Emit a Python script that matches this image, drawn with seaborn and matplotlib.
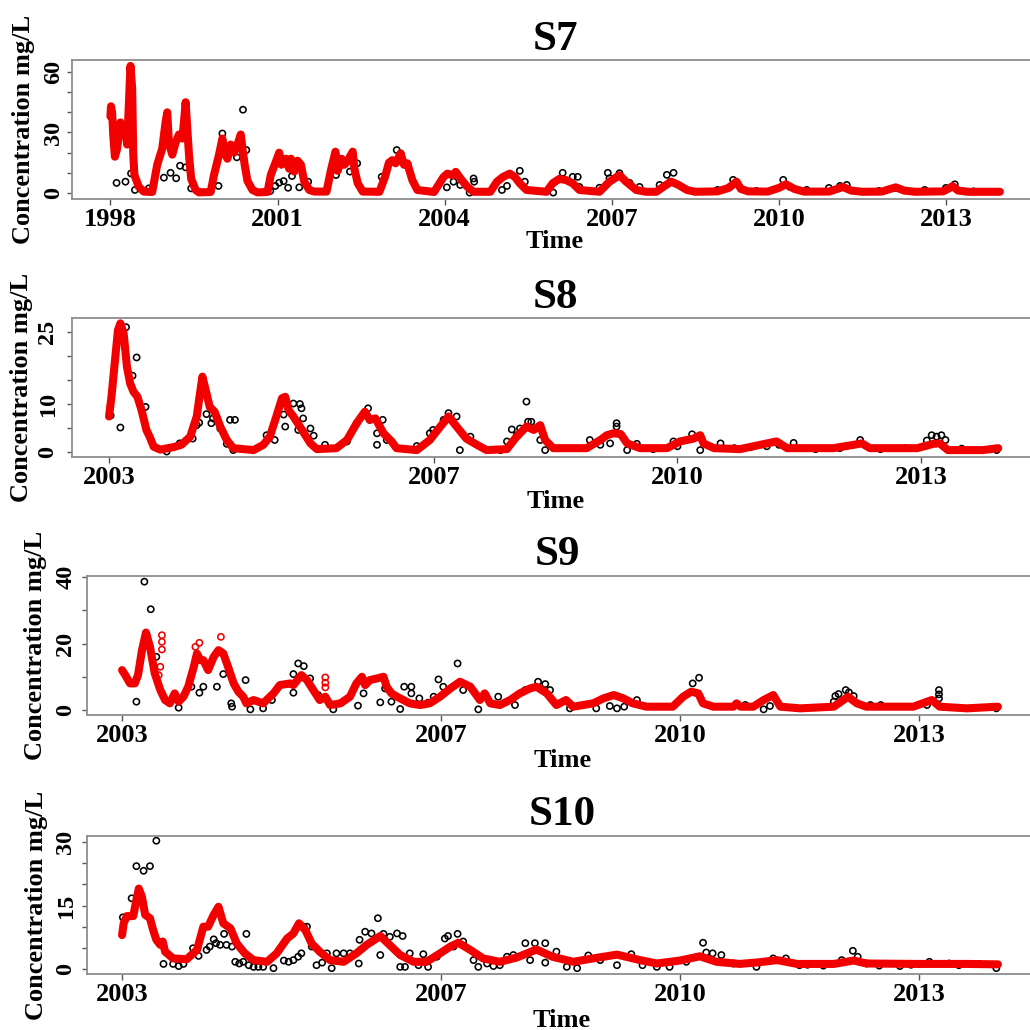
import numpy as np
import pandas as pd
import matplotlib
matplotlib.use("Agg")
import matplotlib.pyplot as plt
import seaborn as sns

# ---------------------------------------------------------------- data
# S7 simulated concentration (decimal year, mg/L)
s7_sim_t = [1998.00, 1998.01, 1998.03, 1998.05, 1998.08, 1998.12, 1998.18, 1998.23, 1998.27, 1998.30,
            1998.33, 1998.36, 1998.39, 1998.41, 1998.43, 1998.51, 1998.60, 1998.75, 1998.84, 1998.93,
            1998.99, 1999.02, 1999.05, 1999.11, 1999.17, 1999.23, 1999.29, 1999.32, 1999.35, 1999.38,
            1999.41, 1999.45, 1999.53, 1999.59, 1999.80, 1999.86, 1999.95, 2000.01, 2000.05, 2000.10,
            2000.16, 2000.22, 2000.28, 2000.34, 2000.37, 2000.41, 2000.46, 2000.55, 2000.64, 2000.82,
            2000.88, 2000.97, 2001.03, 2001.07, 2001.15, 2001.21, 2001.24, 2001.30, 2001.36, 2001.42,
            2001.48, 2001.57, 2001.66, 2001.88, 2001.96, 2002.04, 2002.08, 2002.15, 2002.20, 2002.26,
            2002.35, 2002.38, 2002.44, 2002.53, 2002.83, 2002.93, 2003.00, 2003.06, 2003.12, 2003.21,
            2003.27, 2003.33, 2003.42, 2003.51, 2003.81, 2003.98, 2004.05, 2004.14, 2004.20, 2004.29,
            2004.41, 2004.52, 2004.82, 2004.94, 2005.05, 2005.17, 2005.26, 2005.35, 2005.47, 2005.83,
            2005.94, 2006.06, 2006.18, 2006.30, 2006.42, 2006.78, 2006.96, 2007.14, 2007.26, 2007.44,
            2007.62, 2007.80, 2007.95, 2008.07, 2008.20, 2008.35, 2008.50, 2008.90, 2009.10, 2009.24,
            2009.32, 2009.45, 2009.80, 2010.00, 2010.13, 2010.28, 2010.45, 2010.90, 2011.05, 2011.15,
            2011.30, 2011.50, 2011.85, 2012.00, 2012.10, 2012.25, 2012.45, 2012.95, 2013.05, 2013.12,
            2013.22, 2013.40, 2013.97]
s7_sim_v = [38, 43, 40, 29, 18, 22, 35, 29, 32, 24,
            44, 63, 52, 19, 9, 3, 0.7, 0.5, 14, 22,
            35, 40, 25, 19, 25, 29, 27, 35, 45, 32,
            19, 7, 1.5, 0.3, 0.5, 9, 19, 27, 20, 17,
            24, 20, 24, 29, 22, 14, 6, 1.5, 0.3, 0.5,
            9, 15.5, 20, 14, 17, 12, 17, 10.6, 16, 14,
            5.6, 1.5, 0.7, 0.7, 11.4, 20.5, 11, 17, 14, 16,
            20.5, 12, 4.8, 0.7, 0.6, 8, 15, 16.3, 14.7, 19.6,
            14, 14.7, 6.4, 1.5, 0.5, 7.9, 9.6, 8.8, 10.5, 7,
            3, 0.6, 0.6, 5.6, 8, 9.6, 8, 4.8, 1.5, 0.6,
            4.8, 7, 6.4, 4.8, 1.5, 0.6, 5.6, 8.8, 5.6, 1.5,
            0.6, 0.6, 3.5, 5.6, 4, 1.5, 0.6, 0.8, 2.5, 5.6,
            2, 0.8, 0.7, 2.5, 4.3, 2, 0.7, 0.7, 2, 3,
            1.2, 0.6, 0.7, 2, 2.8, 1.2, 0.6, 0.8, 2.2, 3.4,
            1.2, 0.6, 0.6]

# S7 observed concentration
s7_obs_t = [1998.11, 1998.27, 1998.37, 1998.44, 1998.69, 1998.96, 1999.08, 1999.18, 1999.25, 1999.35,
            1999.45, 1999.94, 2000.01, 2000.13, 2000.27, 2000.38, 2000.44, 2000.87, 2000.96, 2001.03,
            2001.11, 2001.19, 2001.26, 2001.39, 2001.55, 2002.05, 2002.30, 2002.43, 2002.87, 2003.14,
            2003.21, 2003.34, 2004.04, 2004.16, 2004.28, 2004.45, 2004.52, 2004.53, 2005.03, 2005.12,
            2005.35, 2005.44, 2005.95, 2006.12, 2006.30, 2006.39, 2006.42, 2006.78, 2006.93, 2006.96,
            2007.14, 2007.32, 2007.50, 2007.86, 2007.99, 2008.05, 2008.11, 2008.90, 2009.12, 2009.18,
            2009.60, 2010.08, 2010.20, 2010.50, 2010.90, 2011.10, 2011.22, 2011.80, 2012.10, 2012.62,
            2013.00, 2013.16, 2013.50]
s7_obs_v = [5, 5.6, 9.7, 1.5, 2.3, 7.6, 10, 7.3, 13.5, 12.7,
            2.3, 3.5, 29.5, 22, 17.7, 41.3, 21.3, 1, 3.5, 5.1,
            5.9, 2.6, 8.4, 2.8, 5.6, 8.9, 10.6, 14.7, 8, 21.3,
            19.6, 14, 2.8, 5.6, 4, 0.2, 7.2, 5.6, 1.5, 3.5,
            11, 5.6, 0.2, 10, 8, 8, 3, 2.6, 10, 7.3,
            9.8, 5, 3, 4, 9, 5.5, 10, 1.5, 3, 6.5,
            1.0, 6.5, 3.0, 1.5, 2.5, 3.5, 4, 1.0, 2.5, 1.5,
            2.5, 4.3, 0.8]

# S8 simulated concentration
s8_sim_t = [2003.00, 2003.03, 2003.07, 2003.11, 2003.14, 2003.18, 2003.22, 2003.26, 2003.30, 2003.35,
            2003.40, 2003.46, 2003.50, 2003.55, 2003.63, 2003.79, 2003.89, 2004.00, 2004.08, 2004.12,
            2004.15, 2004.19, 2004.24, 2004.30, 2004.37, 2004.45, 2004.53, 2004.78, 2004.90, 2004.98,
            2005.06, 2005.13, 2005.17, 2005.21, 2005.27, 2005.35, 2005.48, 2005.56, 2005.80, 2005.93,
            2006.05, 2006.15, 2006.21, 2006.28, 2006.38, 2006.48, 2006.54, 2006.79, 2006.95, 2007.08,
            2007.18, 2007.28, 2007.40, 2007.53, 2007.65, 2007.90, 2008.00, 2008.14, 2008.23, 2008.31,
            2008.37, 2008.47, 2008.88, 2009.05, 2009.13, 2009.21, 2009.30, 2009.38, 2009.54, 2009.87,
            2010.03, 2010.20, 2010.28, 2010.32, 2010.45, 2010.77, 2011.02, 2011.22, 2011.35, 2011.92,
            2012.17, 2012.27, 2012.37, 2012.95, 2013.15, 2013.23, 2013.33, 2013.76, 2013.95]
s8_sim_v = [7.4, 11.5, 18.5, 25.4, 26.8, 24.7, 17.8, 14.3, 12.6, 11.5,
            8.75, 4.6, 3.2, 1.1, 0.5, 1.0, 1.5, 3.2, 7.4, 12.2,
            15.7, 12.9, 9.4, 8.4, 5.3, 2.5, 0.8, 0.4, 1.5, 3.2,
            7.4, 11.2, 11.5, 8.75, 7.4, 5.3, 1.8, 0.6, 0.8, 2.5,
            6, 8.4, 6.7, 7, 3.9, 2.2, 0.8, 0.4, 2.5, 5.3,
            7.4, 5.3, 2.8, 1.5, 0.4, 0.6, 2.8, 5.3, 4.6, 5.6,
            2.5, 0.8, 0.8, 2.5, 3.5, 3.9, 3.75, 1.8, 0.8, 0.8,
            2.2, 2.8, 3.5, 1.8, 0.8, 0.6, 1.5, 2.2, 0.8, 0.8,
            1.5, 1.8, 0.8, 0.8, 1.7, 1.8, 0.4, 0.4, 0.8]

# S8 observed concentration
s8_obs_t = [2003.02, 2003.14, 2003.21, 2003.29, 2003.34, 2003.45, 2003.71, 2003.87, 2004.03, 2004.08,
            2004.11, 2004.20, 2004.26, 2004.28, 2004.37, 2004.45, 2004.49, 2004.53, 2004.55, 2004.94,
            2005.04, 2005.15, 2005.17, 2005.27, 2005.33, 2005.35, 2005.37, 2005.39, 2005.48, 2005.52,
            2005.66, 2005.93, 2006.05, 2006.19, 2006.21, 2006.30, 2006.30, 2006.37, 2006.42, 2006.79,
            2006.95, 2006.99, 2007.12, 2007.18, 2007.28, 2007.32, 2007.45, 2007.82, 2007.90, 2007.96,
            2008.02, 2008.06, 2008.14, 2008.16, 2008.20, 2008.31, 2008.37, 2008.92, 2009.05, 2009.17,
            2009.25, 2009.25, 2009.38, 2009.50, 2009.70, 2009.95, 2010.00, 2010.18, 2010.28, 2010.53,
            2010.70, 2010.90, 2011.10, 2011.25, 2011.43, 2011.70, 2012.00, 2012.25, 2012.50, 2012.80,
            2013.07, 2013.13, 2013.19, 2013.25, 2013.30, 2013.50, 2013.93]
s8_obs_v = [7.6, 5.1, 26, 15.9, 19.7, 9.4, 0.1, 1.8, 2.8, 5.6,
            6.1, 7.9, 6.0, 7.0, 4.9, 1.7, 6.7, 0.4, 6.7, 3.5,
            2.5, 7.8, 5.3, 10.1, 4.6, 10.0, 9.1, 7.0, 4.9, 3.4,
            1.5, 2.2, 6.0, 9.1, 6.7, 3.9, 1.5, 6.7, 2.5, 1.25,
            3.9, 4.6, 6.7, 8.1, 7.4, 0.4, 3.2, 0.4, 2.2, 4.7,
            3.5, 4.9, 10.5, 6.3, 6.3, 2.5, 0.4, 2.5, 1.5, 1.8,
            6.0, 5.3, 0.4, 1.7, 0.6, 2.2, 1.2, 3.7, 0.4, 1.8,
            0.8, 1.0, 1.2, 1.5, 1.9, 0.6, 0.8, 2.5, 0.6, 0.8,
            2.4, 3.5, 3.2, 3.5, 2.5, 0.7, 0.4]

# S9 simulated concentration
s9_sim_t = [2003.00, 2003.04, 2003.10, 2003.16, 2003.20, 2003.25, 2003.30, 2003.35, 2003.41, 2003.48,
            2003.54, 2003.60, 2003.66, 2003.71, 2003.77, 2003.83, 2003.90, 2003.94, 2003.98, 2004.02,
            2004.08, 2004.15, 2004.21, 2004.27, 2004.33, 2004.40, 2004.46, 2004.52, 2004.56, 2004.65,
            2004.77, 2004.90, 2004.98, 2005.11, 2005.15, 2005.25, 2005.32, 2005.40, 2005.48, 2005.55,
            2005.61, 2005.74, 2005.86, 2005.94, 2006.01, 2006.05, 2006.11, 2006.20, 2006.28, 2006.32,
            2006.38, 2006.45, 2006.53, 2006.61, 2006.74, 2006.86, 2006.99, 2007.12, 2007.24, 2007.37,
            2007.49, 2007.55, 2007.62, 2007.74, 2007.87, 2007.99, 2008.12, 2008.20, 2008.33, 2008.45,
            2008.57, 2008.66, 2008.91, 2009.04, 2009.17, 2009.29, 2009.41, 2009.58, 2009.91, 2010.04,
            2010.14, 2010.23, 2010.29, 2010.42, 2010.67, 2010.71, 2010.76, 2010.92, 2011.05, 2011.17,
            2011.26, 2011.51, 2011.93, 2012.05, 2012.11, 2012.22, 2012.34, 2012.93, 2013.10, 2013.16,
            2013.26, 2013.60, 2013.99]
s9_sim_v = [12, 10.5, 8, 8, 10.5, 18, 23.3, 19, 11, 6,
            3, 2, 5, 2.5, 4, 7, 13, 17, 15, 15,
            12, 16, 18, 17, 13, 8, 5.5, 4, 2, 3,
            2, 5, 7.5, 8, 7.5, 10.5, 9, 6, 3, 4,
            1.5, 2, 4, 8, 10, 7.5, 9, 9.5, 10, 7,
            5, 4, 3, 2, 1.5, 2, 4, 6.5, 8.5, 7,
            3, 5, 2, 1.5, 3, 5, 6.5, 7, 5, 1.5,
            3, 1, 2, 3.5, 4.5, 3.5, 2, 1, 1, 4,
            5.5, 5, 2, 1, 1, 2, 1, 1, 3, 4.5,
            1, 0.5, 1, 3, 4, 2, 1, 1, 2.5, 3,
            1, 0.5, 1]

# S9 isolated simulated values standing off the main curve
s9_sim_pts_t = [2003.46, 2003.48, 2003.50, 2003.50, 2003.50, 2003.92, 2003.97, 2004.24, 2005.55, 2005.55, 2005.55]
s9_sim_pts_v = [10.5, 13, 18.2, 20.5, 22.5, 19, 20.2, 22, 6.8, 8.2, 9.8]

# S9 observed concentration
s9_obs_t = [2003.18, 2003.28, 2003.36, 2003.43, 2003.71, 2003.87, 2003.97, 2004.02, 2004.19, 2004.27,
            2004.37, 2004.38, 2004.55, 2004.61, 2004.77, 2004.88, 2005.15, 2005.15, 2005.21, 2005.28,
            2005.36, 2005.46, 2005.65, 2005.96, 2006.03, 2006.24, 2006.30, 2006.38, 2006.49, 2006.54,
            2006.63, 2006.63, 2006.73, 2006.84, 2006.91, 2006.97, 2007.03, 2007.21, 2007.28, 2007.47,
            2007.72, 2007.93, 2008.06, 2008.22, 2008.31, 2008.37, 2008.62, 2008.95, 2009.12, 2009.21,
            2009.30, 2009.46, 2010.16, 2010.24, 2010.82, 2011.05, 2011.13, 2011.93, 2011.95, 2011.99,
            2012.08, 2012.12, 2012.18, 2012.39, 2012.52, 2013.10, 2013.25, 2013.25, 2013.25, 2013.97]
s9_obs_v = [2.5, 38.6, 30.3, 16, 0.7, 7, 5.2, 7, 7, 10.8,
            2, 1, 9, 0.2, 0.5, 3, 5.2, 10.8, 14, 13.2,
            9.5, 4.5, 0.2, 1.3, 5, 2.3, 6.5, 2.5, 0.3, 7,
            7, 5, 3.5, 2.2, 4, 9.2, 7, 14, 6, 0.2,
            4, 1.5, 6, 8.5, 7.8, 6, 0.5, 0.5, 1.2, 0.5,
            1, 3, 8, 9.7, 1.5, 0.2, 1.2, 2.5, 4.2, 4.8,
            6, 5.3, 4.2, 1.5, 1.5, 1.5, 6, 4.7, 3.5, 0.5]

# S10 simulated concentration
s10_sim_t = [2003.00, 2003.02, 2003.06, 2003.14, 2003.18, 2003.21, 2003.25, 2003.29, 2003.35, 2003.39,
             2003.43, 2003.48, 2003.51, 2003.54, 2003.64, 2003.81, 2003.94, 2004.02, 2004.08, 2004.15,
             2004.21, 2004.27, 2004.36, 2004.44, 2004.54, 2004.65, 2004.82, 2004.94, 2005.07, 2005.15,
             2005.22, 2005.30, 2005.38, 2005.48, 2005.61, 2005.78, 2005.94, 2006.07, 2006.24, 2006.34,
             2006.49, 2006.66, 2006.82, 2006.99, 2007.12, 2007.22, 2007.37, 2007.53, 2007.74, 2007.95,
             2008.20, 2008.40, 2008.66, 2008.91, 2009.21, 2009.50, 2009.71, 2010.00, 2010.25, 2010.46,
             2010.75, 2011.00, 2011.22, 2011.47, 2011.93, 2012.18, 2012.34, 2012.97, 2013.60, 2013.99]
s10_sim_v = [8, 10.8, 12.5, 12.5, 16.3, 19, 17, 12.8, 12, 9.2,
             6.9, 5.7, 6.5, 4.1, 2.5, 2.3, 4.5, 10, 10, 12.8,
             14.7, 10.8, 9.6, 6, 3.7, 2.1, 1.7, 3.7, 7.2, 8.4,
             10.8, 9.2, 6, 4.1, 2.1, 1.7, 3.7, 5.7, 7.8, 6,
             3.3, 1.7, 1.7, 3.7, 5.3, 6.2, 4.5, 2.5, 1.7, 2.7,
             4.6, 2.9, 1.7, 2.5, 3.4, 2.1, 1.3, 2, 3.0, 1.7,
             1.2, 1.6, 2.1, 1.2, 1.2, 2, 1.3, 1.2, 1.2, 1.1]

# S10 observed concentration
s10_obs_t = [2003.01, 2003.12, 2003.18, 2003.27, 2003.35, 2003.43, 2003.52, 2003.64, 2003.71, 2003.77,
             2003.89, 2003.96, 2004.06, 2004.10, 2004.15, 2004.18, 2004.23, 2004.28, 2004.31, 2004.38,
             2004.42, 2004.47, 2004.52, 2004.56, 2004.59, 2004.65, 2004.71, 2004.77, 2004.90, 2005.03,
             2005.09, 2005.15, 2005.21, 2005.25, 2005.28, 2005.32, 2005.38, 2005.44, 2005.51, 2005.57,
             2005.63, 2005.69, 2005.78, 2005.86, 2005.97, 2005.98, 2006.05, 2006.13, 2006.21, 2006.24,
             2006.28, 2006.36, 2006.45, 2006.49, 2006.52, 2006.55, 2006.61, 2006.72, 2006.78, 2006.84,
             2006.95, 2007.05, 2007.09, 2007.16, 2007.21, 2007.28, 2007.41, 2007.47, 2007.58, 2007.66,
             2007.74, 2007.83, 2007.91, 2008.06, 2008.12, 2008.18, 2008.31, 2008.31, 2008.45, 2008.58,
             2008.71, 2008.85, 2009.00, 2009.21, 2009.39, 2009.53, 2009.71, 2009.87, 2010.08, 2010.29,
             2010.33, 2010.41, 2010.52, 2010.67, 2010.96, 2011.17, 2011.33, 2011.50, 2011.60, 2011.80,
             2012.03, 2012.17, 2012.23, 2012.34, 2012.50, 2012.76, 2012.90, 2013.00, 2013.13, 2013.38,
             2013.50, 2013.76, 2013.97]
s10_obs_v = [12.2, 16.7, 24.3, 23.2, 24.3, 30.3, 1.2, 1.2, 0.7, 1.2,
             4.9, 3.1, 4.5, 5.3, 7, 6.1, 5.7, 8.3, 5.7, 5.3,
             1.7, 1.3, 1.7, 8.3, 0.9, 0.5, 0.5, 0.5, 0.2, 2,
             1.7, 2.1, 2.9, 3.7, 10, 10, 5.3, 0.9, 1.5, 3.7,
             0.2, 3.7, 3.7, 3.7, 1.3, 6.9, 8.8, 8.4, 12, 3.3,
             8.3, 7.6, 8.4, 0.5, 7.8, 0.5, 3.7, 0.9, 3.5, 0.5,
             2.9, 7.2, 7.8, 5.3, 8.3, 6.5, 2.1, 0.5, 1.3, 0.7,
             0.9, 2.9, 3.3, 6.1, 2.1, 6.1, 6.1, 1.5, 4.1, 0.5,
             0.2, 3.2, 2.1, 0.9, 3.5, 0.9, 0.5, 0.5, 1.7, 6.2,
             3.9, 3.7, 3.3, 1.3, 0.5, 2.5, 2.5, 0.9, 1.0, 0.8,
             2.1, 4.3, 2.9, 1.3, 0.8, 0.7, 1.0, 1.2, 1.7, 1.3,
             0.9, 1.2, 0.2]

# ---------------------------------------------------------------- style
sns.set_theme(style="white")
plt.rcParams["font.family"] = ["Liberation Serif", "DejaVu Serif"]
plt.rcParams["font.weight"] = "bold"

W = H = 1030
fig = plt.figure(figsize=(W / 100, H / 100), dpi=100)
fig.patch.set_facecolor("white")

RED = "#f20000"
FRAME = "#8e8e8e"


def fx(px):
    return px / W


def fy(py):
    return 1 - py / H


panels = [
    dict(name="S7", sim=(s7_sim_t, s7_sim_v), obs=(s7_obs_t, s7_obs_v), pts=None,
         box=(72, 1035, 60, 199), xlim=(1997.31, 2014.6), ylim=(-2.98, 65.95),
         xticks=[1998, 2001, 2004, 2007, 2010, 2013], yticks=[0, 10, 20, 30, 40, 50, 60],
         ylabels=[0, 30, 60], ylab_center=54, ylabel_x=24,
         title_xy=(555, 50), time_xy=(555, 248)),
    dict(name="S8", sim=(s8_sim_t, s8_sim_v), obs=(s8_obs_t, s8_obs_v), pts=None,
         box=(72, 1034, 318, 457), xlim=(2002.544, 2014.39), ylim=(-1.04, 27.92),
         xticks=[2003, 2007, 2010, 2013], yticks=[0, 5, 10, 15, 20, 25],
         ylabels=[0, 10, 25], ylab_center=48, ylabel_x=22,
         title_xy=(555, 308), time_xy=(556, 508)),
    dict(name="S9", sim=(s9_sim_t, s9_sim_v), obs=(s9_obs_t, s9_obs_v),
         pts=(s9_sim_pts_t, s9_sim_pts_v),
         box=(87, 1033, 576, 715), xlim=(2002.56, 2014.43), ylim=(-1.5, 40.3),
         xticks=[2003, 2007, 2010, 2013], yticks=[0, 10, 20, 30, 40],
         ylabels=[0, 20, 40], ylab_center=66, ylabel_x=36,
         title_xy=(557, 565), time_xy=(563, 767)),
    dict(name="S10", sim=(s10_sim_t, s10_sim_v), obs=(s10_obs_t, s10_obs_v), pts=None,
         box=(87, 1033, 836, 974), xlim=(2002.56, 2014.43), ylim=(-1.18, 31.42),
         xticks=[2003, 2007, 2010, 2013], yticks=[0, 5, 10, 15, 20, 25, 30],
         ylabels=[0, 15, 30], ylab_center=66, ylabel_x=37,
         title_xy=(562, 825), time_xy=(562, 1027)),
]

TICK_LEN_PX = 5.5
PT = 72 / 100  # points per pixel at 100 dpi

for p in panels:
    left, right, top, bottom = p["box"]
    ax = fig.add_axes([fx(left), fy(bottom), (right - left) / W, (bottom - top) / H])
    ax.set_facecolor("white")

    obs = pd.DataFrame({"t": p["obs"][0], "v": p["obs"][1]})
    sim = pd.DataFrame({"t": p["sim"][0], "v": p["sim"][1]})

    # observations: open black circles; simulation: heavy red trace on top
    sns.scatterplot(data=obs, x="t", y="v", ax=ax, marker="o", s=20,
                    facecolor="none", edgecolor="black", linewidth=1.15, zorder=2)
    sns.lineplot(data=sim, x="t", y="v", ax=ax, color=RED, linewidth=5.8,
                 estimator=None, sort=False, zorder=3,
                 solid_capstyle="round", solid_joinstyle="round")
    if p["pts"] is not None:
        pts = pd.DataFrame({"t": p["pts"][0], "v": p["pts"][1]})
        sns.scatterplot(data=pts, x="t", y="v", ax=ax, marker="o", s=20,
                        facecolor="none", edgecolor=RED, linewidth=1.15, zorder=4)

    ax.set_xlim(*p["xlim"])
    ax.set_ylim(*p["ylim"])
    ax.set_xlabel("")
    ax.set_ylabel("")

    for sp in ax.spines.values():
        sp.set_visible(True)
        sp.set_color(FRAME)
        sp.set_linewidth(1.3)

    ax.set_xticks(p["xticks"])
    ax.set_xticklabels([str(v) for v in p["xticks"]])
    ax.set_yticks(p["yticks"])
    ax.set_yticklabels([str(v) if v in p["ylabels"] else "" for v in p["yticks"]])

    ypad_px = left - TICK_LEN_PX - p["ylab_center"]
    ax.tick_params(axis="x", direction="out", length=TICK_LEN_PX * PT, width=1.0,
                   color="#555555", labelsize=19, pad=2.5, bottom=True, top=False)
    ax.tick_params(axis="y", direction="out", length=TICK_LEN_PX * PT, width=1.0,
                   color="#555555", labelsize=17.5, pad=ypad_px * PT, left=True, right=False)
    for lab in ax.get_xticklabels():
        lab.set_fontweight("bold")
        lab.set_color("black")
    for lab in ax.get_yticklabels():
        lab.set_fontweight("bold")
        lab.set_color("black")
        lab.set_rotation(90)
        lab.set_rotation_mode("anchor")
        lab.set_ha("center")
        lab.set_va("center")
    ax.grid(False)

    # panel title, axis titles
    tx, ty = p["title_xy"]
    fig.text(fx(tx), fy(ty), p["name"], ha="center", va="baseline",
             fontsize=31, fontweight="bold", color="black")
    mx, my = p["time_xy"]
    fig.text(fx(mx), fy(my), "Time", ha="center", va="baseline",
             fontsize=19, fontweight="bold", color="black")
    fig.text(fx(p["ylabel_x"]), fy((top + bottom) / 2), "Concentration mg/L",
             rotation=90, ha="center", va="center",
             fontsize=19, fontweight="bold", color="black")

fig.savefig("out.png", dpi=100, facecolor="white")
